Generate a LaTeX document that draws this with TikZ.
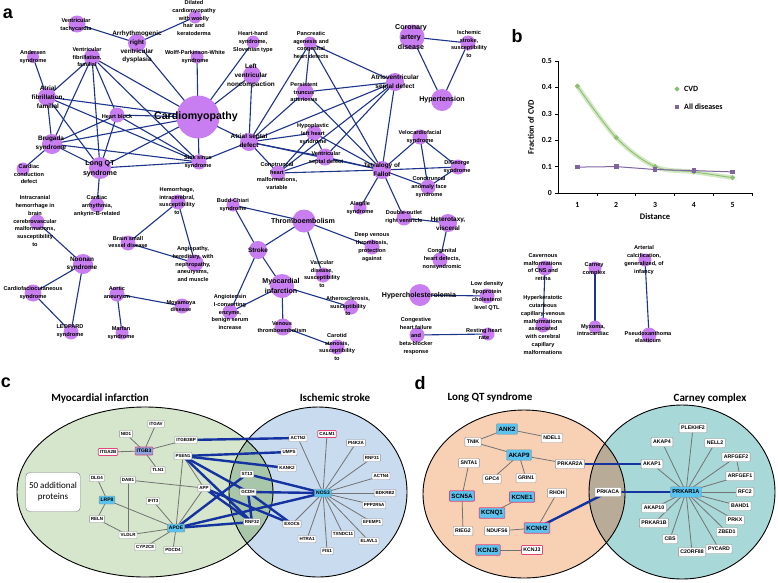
\documentclass[tikz,border=0pt]{standalone}
\usepackage{fontspec}
\newfontfamily\arf{Liberation Sans}
\newfontfamily\calf{Carlito}
\pgfdeclarelayer{ell}\pgfdeclarelayer{edges}
\pgfsetlayers{ell,edges,main}
\definecolor{npur}{RGB}{200,125,240}
\definecolor{eblue}{RGB}{28,52,140}
\definecolor{thick}{RGB}{20,50,160}
\definecolor{cvdg}{RGB}{140,190,115}
\definecolor{cvdband}{RGB}{212,232,196}
\definecolor{allp}{RGB}{128,100,162}
\definecolor{mig}{RGB}{213,230,204}
\definecolor{isb}{RGB}{201,219,239}
\definecolor{mix1}{RGB}{168,198,170}
\definecolor{lqo}{RGB}{248,208,180}
\definecolor{cct}{RGB}{169,216,216}
\definecolor{mix2}{RGB}{184,172,152}
\definecolor{pblue}{RGB}{90,195,240}
\definecolor{pvio}{RGB}{140,165,225}
\definecolor{pred}{RGB}{225,70,120}
\newcommand\fS{\arf\bfseries\fontsize{5.6}{7.8}\selectfont}
\newcommand\fM{\arf\bfseries\fontsize{6.4}{8.8}\selectfont}
\newcommand\fL{\arf\bfseries\fontsize{7.1}{9.6}\selectfont}
\newcommand\fXL{\arf\bfseries\fontsize{10.6}{12}\selectfont}
\newcommand\dz[6]{\node[dc,minimum size=#3pt] (#1) at (#2) {}; \node[#5] (#1t) at (#4) {#6};}
\tikzset{
 dc/.style={circle,fill=npur,inner sep=0pt},
 ls/.style={font=\fS,align=center,inner sep=0pt},
 lm/.style={font=\fM,align=center,inner sep=0pt},
 ll/.style={font=\fL,align=center,inner sep=0pt},
 de/.style={draw=eblue,line width=1.1pt},
 ge/.style={draw=black!55,line width=0.8pt},
 be/.style={draw=thick,line width=2.4pt},
 pb/.style={draw=black!45,fill=white,rounded corners=0.8pt,font=\arf\bfseries\fontsize{4.5}{5}\selectfont,inner xsep=1.5pt,inner ysep=1.2pt,minimum height=7pt},
 pbb/.style={pb,fill=pblue,font=\arf\bfseries\fontsize{5}{6}\selectfont,minimum height=8pt},
 pd/.style={draw=black!45,fill=white,rounded corners=0.8pt,font=\arf\bfseries\fontsize{5.2}{6}\selectfont,inner xsep=2pt,inner ysep=1.5pt,minimum height=9pt},
 pdb/.style={pd,fill=pblue,font=\arf\bfseries\fontsize{6.2}{7}\selectfont,minimum height=10.5pt},
 rb/.style={draw=pred,line width=0.7pt},
 plet/.style={font=\arf\bfseries\fontsize{18}{20}\selectfont,inner sep=0pt},
 ttl/.style={font=\calf\bfseries\fontsize{11}{12}\selectfont,inner sep=0pt},
 ax/.style={font=\calf\bfseries\fontsize{8.5}{10}\selectfont,inner sep=0pt},
}
\begin{document}
\begin{tikzpicture}[x=1pt,y=-1pt]
\useasboundingbox (0,0) rectangle (778,582);
% ---------------- panel a ----------------
\node[plet] (la) at (8,14) {a};
\dz{vt}{77,24}{17}{76,25}{ls}{Ventricular\\tachycardia}
\dz{arvd}{137,43}{18}{137,47}{lm}{Arrhythmogenic\\right\\ventricular\\dysplasia}
\dz{dil}{195,17}{13}{194,18}{ls}{Dilated\\cardiomyopathy\\with woolly\\hair and\\keratoderma}
\dz{hh}{253,42}{13}{253,42}{ls}{Heart-hand\\syndrome,\\Slovenian type}
\dz{wpw}{197,57}{13}{195,57}{ls}{Wolff-Parkinson-White\\syndrome}
\dz{lvnc}{252,75}{18}{251,76}{lm}{Left\\ventricular\\noncompaction}
\dz{and}{33,57}{12}{33,57}{ls}{Andersen\\syndrome}
\dz{vf}{92,57}{16}{87,57}{ls}{Ventricular\\fibrillation,\\familial}
\dz{af}{47,97}{18}{48,97}{lm}{Atrial\\fibrillation,\\familial}
\dz{hb}{117,115}{15}{117,116}{ls}{Heart block}
\dz{cm}{198,117}{43}{196,117}{font=\fXL,inner sep=0pt}{Cardiomyopathy}
\dz{bru}{52,144}{20}{51,143}{lm}{Brugada\\syndrome}
\dz{lqt}{100,168}{22}{100,169}{ll}{Long QT\\syndrome}
\dz{sss}{199,162}{15}{198,162}{ls}{Sick sinus\\syndrome}
\dz{asd}{249,142}{18}{249,141}{lm}{Atrial septal\\defect}
\dz{ccd}{23,169}{13}{29,174}{ls}{Cardiac\\conduction\\defect}
\dz{car}{97,205}{15}{97,206}{ls}{Cardiac\\arrhythmia,\\ankyrin-B-related}
\dz{icr}{37,222}{15}{35,221}{ls}{Intracranial\\hemorrhage in\\brain\\cerebrovascular\\malformations,\\susceptibility\\to}
\dz{noo}{83,264}{20}{82,264}{lm}{Noonan\\syndrome}
\dz{cfc}{33,293}{17}{33,293}{ls}{Cardiofaciocutaneous\\syndrome}
\dz{leo}{71,332}{15}{70,331}{ls}{LEOPARD\\syndrome}
\dz{hem}{178,202}{15}{177,201}{ls}{Hemorrhage,\\intracerebral,\\susceptibility\\to}
\dz{bsv}{128,243}{15}{128,242}{ls}{Brain small\\vessel disease}
\dz{ang}{195,263}{17}{193,264}{ls}{Angiopathy,\\hereditary, with\\nephropathy,\\aneurysms,\\and muscle}
\dz{aor}{117,294}{15}{117,293}{ls}{Aortic\\aneurysm}
\dz{mar}{122,333}{13}{121,333}{ls}{Marfan\\syndrome}
\dz{moy}{182,306}{15}{181,306}{ls}{Moyamoya\\disease}
\dz{bud}{233,205}{13}{233,205}{ls}{Budd-Chiari\\syndrome}
\dz{stk}{258,250}{18}{258,250}{lm}{Stroke}
\dz{ace}{230,312}{15}{230,312}{ls}{Angiotensin\\I-converting\\enzyme,\\benign serum\\increase}
\dz{thr}{304,221}{23}{303,221}{ll}{Thromboembolism}
\dz{mi}{282,286}{24}{281,286}{ll}{Myocardial\\infarction}
\dz{vas}{323,275}{15}{322,274}{ls}{Vascular\\disease,\\susceptibility\\to}
\dz{dvt}{372,247}{15}{372,247}{ls}{Deep venous\\thrombosis,\\protection\\against}
\dz{ath}{351,307}{15}{348,306}{ls}{Atherosclerosis,\\susceptibility\\to}
\dz{vte}{283,327}{17}{282,327}{ls}{Venous\\thromboembolism}
\dz{cst}{337,347}{15}{337,347}{ls}{Carotid\\stenosis,\\susceptibility\\to}
\dz{hyc}{420,295}{22}{419,296}{ll}{Hypercholesterolemia}
\dz{ldl}{487,296}{15}{487,296}{ls}{Low density\\lipoprotein\\cholesterol\\level QTL}
\dz{chf}{417,335}{15}{416,336}{ls}{Congestive\\heart failure\\and\\beta-blocker\\response}
\dz{rhr}{488,334}{13}{484,334}{ls}{Resting heart\\rate}
\dz{ala}{360,208}{13}{360,208}{ls}{Alagille\\syndrome}
\dz{dorv}{404,218}{15}{404,217}{ls}{Double-outlet\\right ventricle}
\dz{het}{448,223}{18}{448,224}{lm}{Heterotaxy,\\visceral}
\dz{chd}{440,260}{15}{442,259}{ls}{Congenital\\heart defects,\\nonsyndromic}
\dz{tof}{382,170}{18}{382,170}{lm}{Tetralogy of\\Fallot}
\dz{vcf}{420,137}{15}{420,137}{ls}{Velocardiofacial\\syndrome}
\dz{dig}{458,167}{15}{457,167}{ls}{DiGeorge\\syndrome}
\dz{caf}{428,187}{15}{429,187}{ls}{Conotruncal\\anomaly face\\syndrome}
\dz{cad}{412,37}{25}{411,37}{ll}{Coronary\\artery\\disease}
\dz{isc}{468,43}{15}{469,44}{ls}{Ischemic\\stroke,\\susceptibility\\to}
\dz{hyp}{442,100}{22}{442,100}{ll}{Hypertension}
\dz{pan}{310,43}{13}{311,45}{ls}{Pancreatic\\agenesis and\\congenital\\heart defects}
\dz{avsd}{395,82}{18}{395,82}{lm}{Atrioventricular\\septal defect}
\dz{pta}{305,92}{17}{304,92}{ls}{Persistent\\truncus\\arteriosus}
\dz{hlh}{314,133}{15}{313,134}{ls}{Hypoplastic\\left heart\\syndrome}
\dz{vsd}{325,157}{17}{326,158}{ls}{Ventricular\\septal defect}
\dz{cth}{278,173}{15}{277,176}{ls}{Conotruncal\\heart\\malformations,\\variable}
\dz{cav}{545,268}{15}{543,267}{ls}{Cavernous\\malformations\\of CNS and\\retina}
\dz{hkc}{543,325}{15}{543,325}{ls}{Hyperkeratotic\\cutaneous\\capillary-venous\\malformations\\associated\\with cerebral\\capillary\\malformations}
\dz{cny}{595,268}{13}{594,269}{ls}{Carney\\complex}
\dz{myx}{595,327}{13}{593,330}{ls}{Myxoma,\\intracardiac}
\dz{arc}{645,260}{13}{644,260}{ls}{Arterial\\calcification,\\generalized, of\\infancy}
\dz{pxe}{649,335}{15}{648,337}{ls}{Pseudoxanthoma\\elasticum}
\begin{pgfonlayer}{edges}
\foreach \a/\b in {vt/arvd,arvd/dil,arvd/cm,wpw/cm,hh/cm,lvnc/cm,lvnc/asd,and/af,vf/af,vf/bru,vf/lqt,vf/hb,vf/sss,vf/cm,af/cm,af/sss,af/lqt,af/bru,hb/bru,hb/lqt,hb/cm,hb/sss,bru/cm,bru/sss,bru/lqt,bru/ccd,lqt/sss,lqt/cm,lqt/car,sss/cm,sss/asd,cm/asd,
 asd/pan,asd/pta,asd/avsd,asd/hlh,asd/vsd,asd/tof,asd/cth,pan/pta,pan/avsd,pan/tof,pta/avsd,pta/tof,avsd/tof,avsd/vsd,avsd/cth,hlh/tof,hlh/vsd,hlh/cth,vsd/tof,cth/tof,cth/vsd,tof/vcf,tof/dig,tof/caf,tof/ala,tof/dorv,vcf/dig,vcf/caf,dig/caf,dorv/het,het/chd,
 cad/isc,cad/hyp,isc/hyp,bud/thr,bud/stk,thr/stk,thr/dvt,thr/vas,stk/mi,stk/ace,mi/ace,mi/ath,mi/vte,vte/cst,hem/bsv,hem/ang,bsv/ang,icr/noo,noo/cfc,noo/leo,cfc/leo,aor/mar,aor/moy,hyc/ldl,chf/rhr,cav/hkc,cny/myx,arc/pxe}
 \draw[de] (\a.center) -- (\b.center);
\end{pgfonlayer}
% ---------------- panel b ----------------
\node[plet] (lb) at (517,36) {b};
\coordinate (o) at (558,193);
\coordinate (ytop) at (558,61);
\coordinate (xend) at (752,193);
\draw[line width=0.8pt] (ytop) -- (o) -- (xend);
\foreach \v/\t in {0/0,1/0.1,2/0.2,3/0.3,4/0.4,5/0.5}{
 \draw[line width=0.6pt] (555,193-26.4*\v) -- (558,193-26.4*\v);
 \node[font=\calf\bfseries\fontsize{7.8}{8}\selectfont,anchor=east,inner sep=0pt] (yt\v) at (552,193-26.4*\v) {\t};}
\foreach \k in {1,...,5}{
 \draw[line width=0.6pt] (558+38.8*\k,193) -- (558+38.8*\k,196);
 \node[font=\calf\bfseries\fontsize{7.8}{8}\selectfont,inner sep=0pt] (xt\k) at (538.6+38.8*\k,205) {\k};}
\node[ax] (xl) at (655,217) {Distance};
\node[ax,rotate=90] (yl) at (531,127) {Fraction of CVD};
\draw[cvdband,line width=4.5pt,line cap=round] plot[smooth,tension=0.55] coordinates {(577.4,86.1) (616.2,137.6) (655,166.6) (693.8,171.9) (732.6,177.7)};
\draw[cvdg,line width=0.9pt] plot[smooth,tension=0.55] coordinates {(577.4,86.1) (616.2,137.6) (655,166.6) (693.8,171.9) (732.6,177.7)};
\draw[allp,line width=1pt] (577.4,167.1) -- (616.2,166.6) -- (655,169.5) -- (693.8,170.6) -- (732.6,171.9);
\foreach \x/\y in {577.4/86.1,616.2/137.6,655/166.6,693.8/171.9,732.6/177.7}
 \fill[cvdg] (\x,\y) +(0,-2.6) -- +(2.6,0) -- +(0,2.6) -- +(-2.6,0) -- cycle;
\foreach \x/\y in {577.4/167.1,616.2/166.6,655/169.5,693.8/170.6,732.6/171.9}
 \fill[allp] (\x-2.3,\y-2.3) rectangle (\x+2.3,\y+2.3);
\fill[cvdg] (677,89) +(0,-2.6) -- +(2.6,0) -- +(0,2.6) -- +(-2.6,0) -- cycle;
\node[ax,anchor=west,font=\calf\bfseries\fontsize{8}{9}\selectfont] (lg1) at (684,89) {CVD};
\fill[allp] (674.7,104.7) rectangle (679.3,109.3);
\node[ax,anchor=west,font=\calf\bfseries\fontsize{8}{9}\selectfont] (lg2) at (684,107) {All diseases};
% ---------------- panel c ----------------
\node[plet] (lc) at (6,383) {c};
\node[ttl] (tmi) at (100,398) {Myocardial infarction};
\node[ttl] (tis) at (335,398) {Ischemic stroke};
\begin{pgfonlayer}{ell}
\fill[mig] (145,492) ellipse [x radius=128,y radius=85];
\fill[isb] (318,492) ellipse [x radius=89,y radius=85];
\begin{scope}
\clip (145,492) ellipse [x radius=128,y radius=85];
\fill[mix1] (318,492) ellipse [x radius=89,y radius=85];
\end{scope}
\draw[line width=0.9pt] (145,492) ellipse [x radius=128,y radius=85];
\draw[line width=0.9pt] (318,492) ellipse [x radius=89,y radius=85];
\fill[lqo] (524,494) ellipse [x radius=101,y radius=84];
\fill[cct] (682,492) ellipse [x radius=93,y radius=87];
\begin{scope}
\clip (524,494) ellipse [x radius=101,y radius=84];
\fill[mix2] (682,492) ellipse [x radius=93,y radius=87];
\end{scope}
\draw[line width=0.9pt] (524,494) ellipse [x radius=101,y radius=84];
\draw[line width=0.9pt] (682,492) ellipse [x radius=93,y radius=87];
\end{pgfonlayer}
\node[draw=black!50,fill=white,rounded corners=4pt,minimum width=54pt,minimum height=39pt,align=center,font=\calf\fontsize{9}{11}\selectfont] (add) at (53,492) {50 additional\\proteins};
\node[pb] (itgav) at (156,424) {ITGAV};
\node[pb] (nid1) at (126,434) {NID1};
\node[pb,rb] (itga2b) at (108,452) {ITGA2B};
\node[pbb,fill=pvio,rb] (itgb3) at (144,451) {ITGB3};
\node[pb] (itgb3bp) at (186,440) {ITGB3BP};
\node[pb] (tln1) at (158,470) {TLN1};
\node[pb] (psen1) at (183,456) {PSEN1};
\node[pb] (dlg4) at (97,478) {DLG4};
\node[pb] (dab1) at (128,480) {DAB1};
\node[pb] (app) at (204,488) {APP};
\node[pbb] (lrp8) at (107,500) {LRP8};
\node[pb] (ifit3) at (153,501) {IFIT3};
\node[pb] (reln) at (97,519) {RELN};
\node[pb] (vldlr) at (128,535) {VLDLR};
\node[pbb] (apoe) at (176,528) {APOE};
\node[pb] (cyp2c8) at (145,547) {CYP2C8};
\node[pb] (pdcd4) at (173,550) {PDCD4};
\node[pb] (actn2) at (298,438) {ACTN2};
\node[pb,rb] (calm1) at (327,434) {CALM1};
\node[pb] (pi4k2a) at (356,443) {PI4K2A};
\node[pb] (umps) at (289,452) {UMPS};
\node[pb] (rnf31) at (372,458) {RNF31};
\node[pb] (kank2) at (287,468) {KANK2};
\node[pb] (st13) at (247,474) {ST13};
\node[pb] (actn4) at (381,476) {ACTN4};
\node[pb] (gcdh) at (248,492) {GCDH};
\node[pbb] (nos3) at (323,493) {NOS3};
\node[pb] (bdkrb2) at (385,493) {BDKRB2};
\node[pb] (ppp2r5a) at (374,505) {PPP2R5A};
\node[pb] (rnf32) at (252,522) {RNF32};
\node[pb] (exoc6) at (292,524) {EXOC6};
\node[pb] (efemp1) at (372,522) {EFEMP1};
\node[pb] (htra1) at (307,539) {HTRA1};
\node[pb] (txndc11) at (343,534) {TXNDC11};
\node[pb] (elavl1) at (369,541) {ELAVL1};
\node[pb] (fis1) at (327,551) {FIS1};
\begin{pgfonlayer}{edges}
\foreach \a/\b in {itgav/itgb3,nid1/itgb3,itga2b/itgb3,itgb3/itgb3bp,itgb3/tln1,dlg4/lrp8,lrp8/reln,lrp8/apoe,dab1/vldlr,dab1/app,ifit3/apoe,reln/vldlr,vldlr/apoe,cyp2c8/apoe,pdcd4/apoe,psen1/app,psen1/apoe,app/apoe,
 nos3/actn2,nos3/calm1,nos3/pi4k2a,nos3/rnf31,nos3/actn4,nos3/bdkrb2,nos3/ppp2r5a,nos3/efemp1,nos3/elavl1,nos3/txndc11,nos3/fis1,nos3/htra1,nos3/exoc6}
 \draw[ge] (\a.center) -- (\b.center);
\foreach \a/\b in {itgb3bp/actn2,psen1/umps,psen1/kank2,psen1/gcdh,psen1/rnf32,app/rnf32,app/exoc6,st13/nos3,st13/apoe,gcdh/nos3,gcdh/exoc6,gcdh/rnf32,apoe/nos3,apoe/rnf32}
 \draw[be] (\a.center) -- (\b.center);
\end{pgfonlayer}
% ---------------- panel d ----------------
\node[plet] (ld) at (420,383) {d};
\node[ttl] (tlq) at (490,398) {Long QT syndrome};
\node[ttl] (tcc) at (710,398) {Carney complex};
\node[pdb] (ank2) at (507,429) {ANK2};
\node[pd] (tnik) at (473,442) {TNIK};
\node[pd] (ndel1) at (552,438) {NDEL1};
\node[pdb] (akap9) at (519,455) {AKAP9};
\node[pd] (snta1) at (469,463) {SNTA1};
\node[pd] (prkar2a) at (570,464) {PRKAR2A};
\node[pd] (gpc4) at (492,479) {GPC4};
\node[pd] (grin1) at (526,478) {GRIN1};
\node[pdb,rb] (scn5a) at (462,496) {SCN5A};
\node[pdb,rb] (kcne1) at (522,497) {KCNE1};
\node[pd] (rhoh) at (557,493) {RHOH};
\node[pdb,rb] (kcnq1) at (492,513) {KCNQ1};
\node[pd] (rieg2) at (463,531) {RIEG2};
\node[pd] (ndufs6) at (497,531) {NDUFS6};
\node[pdb,rb] (kcnh2) at (537,528) {KCNH2};
\node[pdb,rb] (kcnj5) at (488,550) {KCNJ5};
\node[pd,rb] (kcnj3) at (532,550) {KCNJ3};
\node[pd] (plekhf2) at (693,428) {PLEKHF2};
\node[pd] (akap4) at (662,442) {AKAP4};
\node[pd] (nell2) at (715,443) {NELL2};
\node[pd] (arfgef2) at (736,457) {ARFGEF2};
\node[pd] (akap1) at (652,464) {AKAP1};
\node[pd] (arfgef1) at (740,476) {ARFGEF1};
\node[pd] (prkaca) at (608,492) {PRKACA};
\node[pdb,font=\arf\bfseries\fontsize{5.6}{6}\selectfont] (prkar1a) at (686,492) {PRKAR1A};
\node[pd] (rfc2) at (745,492) {RFC2};
\node[pd] (akap10) at (654,508) {AKAP10};
\node[pd] (bahd1) at (740,506) {BAHD1};
\node[pd] (prkx) at (735,520) {PRKX};
\node[pd] (prkar1b) at (654,523) {PRKAR1B};
\node[pd] (zbed1) at (727,532) {ZBED1};
\node[pd] (cbs) at (670,539) {CBS};
\node[pd] (pycard) at (719,549) {PYCARD};
\node[pd] (c2orf88) at (692,552) {C2ORF88};
\begin{pgfonlayer}{edges}
\foreach \a/\b in {ank2/tnik,ank2/ndel1,tnik/akap9,akap9/prkar2a,akap9/gpc4,akap9/grin1,snta1/scn5a,scn5a/rieg2,kcne1/kcnq1,rhoh/kcnh2,ndufs6/kcnh2,kcnj5/kcnj3,arfgef2/arfgef1,
 prkar1a/plekhf2,prkar1a/akap4,prkar1a/nell2,prkar1a/arfgef2,prkar1a/arfgef1,prkar1a/akap1,prkar1a/rfc2,prkar1a/bahd1,prkar1a/prkx,prkar1a/zbed1,prkar1a/pycard,prkar1a/c2orf88,prkar1a/cbs,prkar1a/prkar1b,prkar1a/akap10}
 \draw[ge] (\a.center) -- (\b.center);
\foreach \a/\b in {prkar2a/akap1,prkaca/prkar1a,kcnh2/prkaca}
 \draw[be] (\a.center) -- (\b.center);
\end{pgfonlayer}
\end{tikzpicture}
\end{document}
